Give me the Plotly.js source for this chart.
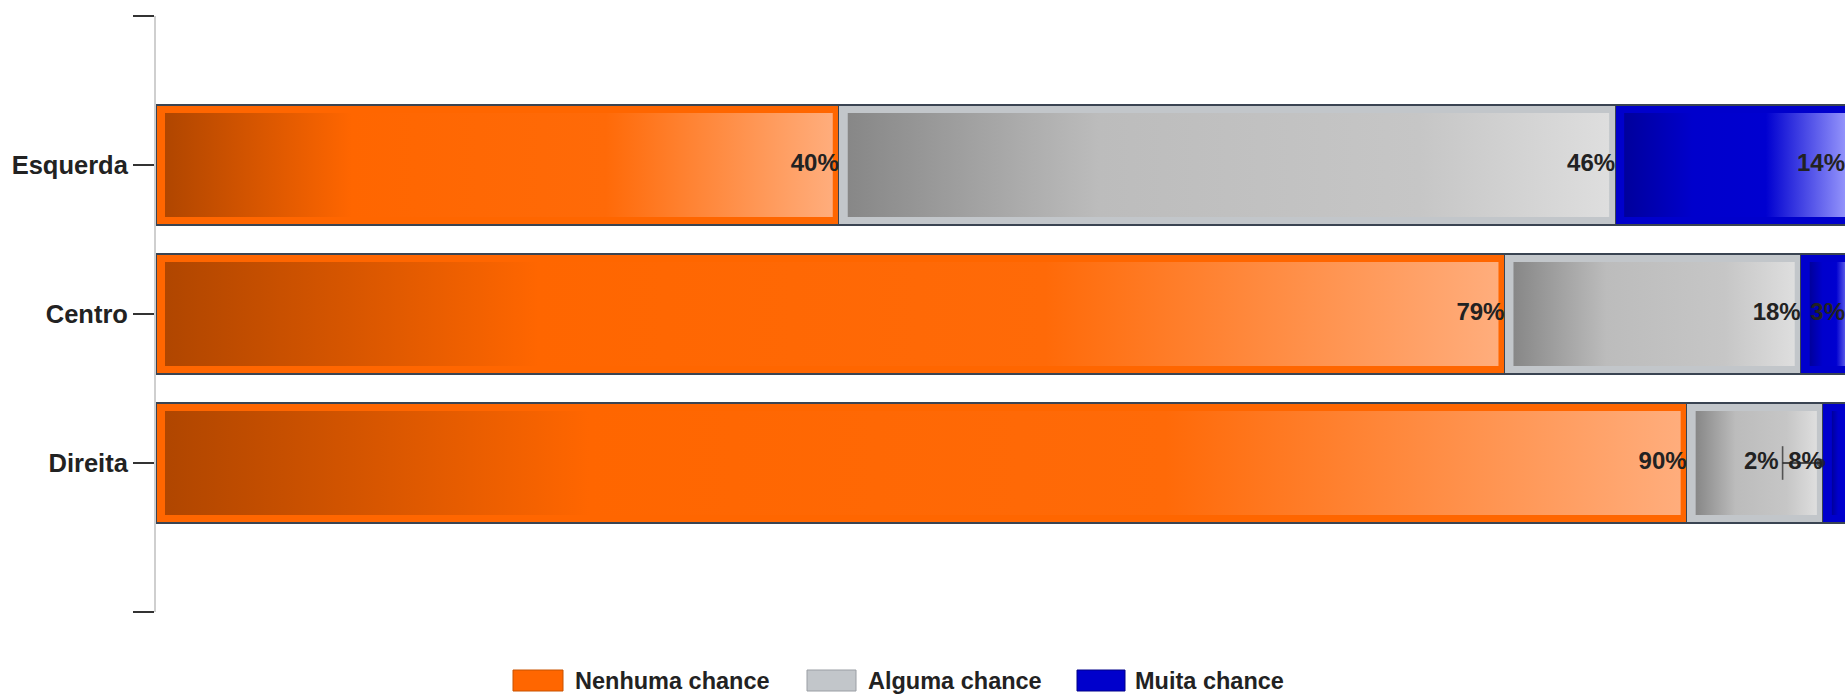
<!DOCTYPE html>
<html><head><meta charset="utf-8">
<script src="https://cdn.plot.ly/plotly-3.0.1.min.js"></script>
<style>html,body{margin:0;padding:0;background:#fff}#chart{width:1845px;height:694px}</style>
</head><body><div id="chart"></div>
<script>
// ---- data ----
const categories = ['Esquerda', 'Centro', 'Direita'];
const seriesNames = ['Nenhuma chance', 'Alguma chance', 'Muita chance'];
const nenhuma = [40.1, 79.2, 89.9];
const alguma = [45.6, 17.4, 8.0];
const muita = [14.3, 3.4, 2.1];
const nenhumaLabels = ['40%', '79%', '90%'];
const algumaLabels = ['46%', '18%', '8%'];
const muitaLabels = ['14%', '3%', '2%'];

// ---- styling ----
const seriesValues = [nenhuma, alguma, muita];
const seriesLabels = [nenhumaLabels, algumaLabels, muitaLabels];
const baseColors = ['#ff6600', '#c2c6ca', '#0000cc'];
const swatchLines = ['#c85200', '#9a9ea4', '#000088'];
const gradients = [
  [[0, '#b04600'], [0.28, '#ff6600'], [0.66, '#ff6a08'], [1, '#ffad7c']],
  [[0, '#878787'], [0.33, '#bcbcbc'], [0.75, '#c6c6c6'], [1, '#dedede']],
  [[0, '#00009c'], [0.3, '#0000cc'], [0.62, '#0000d0'], [1, '#a0a0ff']]
];
const W = 1845, H = 694, ML = 156, MR = 0, MT = 16, MB = 82;
const xMax = 99.2;
const pxPerX = (W - ML - MR) / xMax;
const pxPerY = (H - MT - MB) / 4;
const barWidth = 0.805;
const fontFam = 'Liberation Sans, Arial, sans-serif';
const yPos = categories.map((c, i) => i);

const traces = [];
// base bars (stacked)
seriesValues.forEach((vals, k) => {
  traces.push({
    type: 'bar', orientation: 'h', name: seriesNames[k],
    x: vals, y: yPos, width: barWidth,
    marker: {color: baseColors[k], line: {color: '#3a4452', width: 1.2}},
    showlegend: false, hoverinfo: 'x+name'
  });
});
// inner gradient panels
const cum = yPos.map(() => 0);
const starts = seriesValues.map(() => []);
seriesValues.forEach((vals, k) => {
  vals.forEach((v, i) => {
    const s = cum[i], e = s + v;
    starts[k][i] = s;
    cum[i] = e;
    const x1 = s + 9 / pxPerX, x2 = e - 6 / pxPerX;
    const y1 = i - barWidth / 2 + 8 / pxPerY, y2 = i + barWidth / 2 - 8 / pxPerY;
    if (x2 > x1) {
      traces.push({
        type: 'scatter', mode: 'lines',
        x: [x1, x2, x2, x1, x1], y: [y1, y1, y2, y2, y1],
        fill: 'toself', fillcolor: baseColors[k],
        fillgradient: {type: 'horizontal', colorscale: gradients[k]},
        line: {width: 0, color: 'rgba(0,0,0,0)'},
        hoverinfo: 'skip', showlegend: false
      });
    }
  });
});
// data labels
const lx = [], ly = [], lt = [];
const leaders = [];
seriesValues.forEach((vals, k) => {
  vals.forEach((v, i) => {
    const s = starts[k][i], e = s + v;
    if (v < 2.5) {
      const x = s - 2.6;
      lx.push(x); ly.push(i); lt.push(seriesLabels[k][i]);
      leaders.push({x0: x + 4 / pxPerX, x1: s - 2 / pxPerX, y: i});
    } else {
      lx.push(Math.min(e, xMax)); ly.push(i); lt.push(seriesLabels[k][i]);
    }
  });
});
leaders.forEach(ld => {
  traces.push({
    type: 'scatter', mode: 'lines+markers',
    x: [ld.x0, ld.x1], y: [ld.y, ld.y],
    line: {color: '#222', width: 1.6},
    marker: {symbol: ['line-ns-open', 'circle'], size: [24, 7], color: '#222', line: {color: '#222', width: 1.6}},
    hoverinfo: 'skip', showlegend: false
  });
});
traces.push({
  type: 'scatter', mode: 'text', x: lx, y: ly, text: lt,
  textposition: 'middle left',
  textfont: {family: fontFam, size: 24, color: '#222', weight: 'bold'},
  hoverinfo: 'skip', showlegend: false
});

// custom legend
const px2x = p => (p - ML) / (W - ML - MR);
const py2y = p => (H - MB - p) / (H - MT - MB);
const swatchX = [[513, 563], [807, 856], [1077, 1125]];
const textX = [573, 866, 1133];
const shapes = [], annotations = [];
seriesNames.forEach((n, k) => {
  shapes.push({type: 'rect', xref: 'paper', yref: 'paper',
    x0: px2x(swatchX[k][0]), x1: px2x(swatchX[k][1]), y0: py2y(691), y1: py2y(670),
    fillcolor: baseColors[k], line: {color: swatchLines[k], width: 1}});
  annotations.push({xref: 'paper', yref: 'paper', x: px2x(textX[k]), y: py2y(681),
    xanchor: 'left', yanchor: 'middle', showarrow: false, text: n,
    font: {family: fontFam, size: 23.5, color: '#222', weight: 'bold'}});
});

const layout = {
  width: W, height: H,
  margin: {l: ML, r: MR, t: MT, b: MB, pad: 0},
  paper_bgcolor: '#fff', plot_bgcolor: '#fff',
  barmode: 'stack', showlegend: false,
  xaxis: {range: [0, xMax], showgrid: false, zeroline: false, showline: false,
    showticklabels: false, ticks: '', fixedrange: true},
  yaxis: {range: [3, -1], tickvals: [-1, 0, 1, 2, 3],
    ticktext: ['', categories[0], categories[1], categories[2], ''],
    ticks: 'outside', ticklen: 21, tickwidth: 2, tickcolor: '#333',
    showline: true, linecolor: '#cfcfcf', linewidth: 2,
    showgrid: false, zeroline: false, fixedrange: true,
    tickfont: {family: fontFam, size: 25.5, color: '#222', weight: 'bold'}},
  shapes: shapes, annotations: annotations
};
Plotly.newPlot('chart', traces, layout, {displayModeBar: false, staticPlot: true});
</script></body></html>
